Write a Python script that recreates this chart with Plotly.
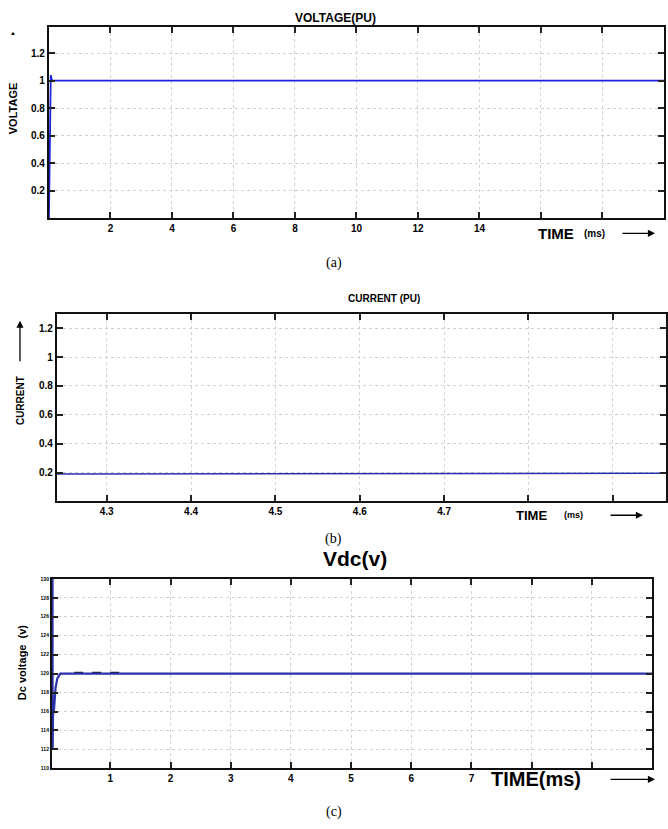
import plotly.graph_objects as go

W, H = 668, 829

# ---------------- data ----------------
# (a) voltage (pu) vs time (ms)
time_a = [0.0, 0.03, 0.06, 0.1, 0.2, 20.0]
volt_a = [0.0, 0.72, 1.04, 1.0, 1.0, 1.0]
xtick_a = [2, 4, 6, 8, 10, 12, 14, 16, 18]
xtext_a = ["2", "4", "6", "8", "10", "12", "14", "", ""]
ytick_a = [0.2, 0.4, 0.6, 0.8, 1.0, 1.2]
ytext_a = ["0.2", "0.4", "0.6", "0.8", "1", "1.2"]

# (b) current (pu) vs time (ms)
time_b = [4.241, 4.489, 4.491, 4.963]
curr_b = [0.19, 0.19, 0.195, 0.195]
xtick_b = [4.3, 4.4, 4.5, 4.6, 4.7, 4.8, 4.9]
xtext_b = ["4.3", "4.4", "4.5", "4.6", "4.7", "", ""]
ytick_b = [0.2, 0.4, 0.6, 0.8, 1.0, 1.2]
ytext_b = ["0.2", "0.4", "0.6", "0.8", "1", "1.2"]

# (c) dc voltage (v) vs time (ms)
time_c = [0.04, 0.042, 0.044, 0.046, 0.05, 0.06, 0.075, 0.09, 0.12, 0.17, 10.0]
vdc_c = [130, 112, 129, 114.5, 116.5, 115.8, 117.3, 118.5, 119.5, 120, 120]
ref_time_c = [0.4, 1.25]
ref_vdc_c = [120.12, 120.12]
xtick_c = [1, 2, 3, 4, 5, 6, 7, 8, 9]
xtext_c = ["1", "2", "3", "4", "5", "6", "7", "", ""]
ytick_c = [110, 112, 114, 116, 118, 120, 122, 124, 126, 128, 130]
ytext_c = ["110", "112", "114", "116", "118", "120", "122", "124", "126", "128", "130"]

# ---------------- helpers ----------------
def px_x(p):
    return p / W

def px_y(p):
    return 1 - p / H

fig = go.Figure()

fig.add_trace(go.Scatter(x=time_a, y=volt_a, mode="lines",
                         line=dict(color="#1e22d8", width=1.8), xaxis="x", yaxis="y",
                         showlegend=False))
fig.add_trace(go.Scatter(x=time_b, y=curr_b, mode="lines",
                         line=dict(color="#2830b0", width=1.5), xaxis="x2", yaxis="y2",
                         showlegend=False))
fig.add_trace(go.Scatter(x=time_c, y=vdc_c, mode="lines",
                         line=dict(color="#2a30a8", width=2.2), xaxis="x3", yaxis="y3",
                         showlegend=False))
fig.add_trace(go.Scatter(x=ref_time_c, y=ref_vdc_c, mode="lines",
                         line=dict(color="#22265a", width=1.2, dash="dash"), xaxis="x3", yaxis="y3",
                         showlegend=False))

BOLD = "Liberation Sans, Arial"
tickfont = dict(family=BOLD, size=10, color="black", weight="bold")
common = dict(showline=True, linecolor="#111", linewidth=2, mirror="ticks",
              ticks="inside", ticklen=6, tickwidth=2, tickcolor="#222",
              showgrid=True, gridcolor="#d2d2d2", griddash="dot", gridwidth=1,
              zeroline=False, tickfont=tickfont, fixedrange=True)

fig.update_layout(
    width=W, height=H, margin=dict(l=0, r=0, t=0, b=0),
    paper_bgcolor="white", plot_bgcolor="white",
    xaxis=dict(domain=[px_x(49), px_x(665)], range=[0, 20], anchor="y",
               tickmode="array", tickvals=xtick_a, ticktext=xtext_a, **common),
    yaxis=dict(domain=[px_y(217), px_y(24)], range=[0, 1.39], anchor="x",
               tickmode="array", tickvals=ytick_a, ticktext=ytext_a, **common),
    xaxis2=dict(domain=[px_x(57), px_x(667)], range=[4.241, 4.963], anchor="y2",
                tickmode="array", tickvals=xtick_b, ticktext=xtext_b, **common),
    yaxis2=dict(domain=[px_y(502), px_y(313)], range=[0, 1.3], anchor="x2",
                tickmode="array", tickvals=ytick_b, ticktext=ytext_b, **common),
    xaxis3=dict(domain=[px_x(52), px_x(653)], range=[0.03, 10], anchor="y3",
                tickmode="array", tickvals=xtick_c, ticktext=xtext_c, **common),
    yaxis3=dict(domain=[px_y(771), px_y(580)], range=[110, 130], anchor="x3",
                tickmode="array", tickvals=ytick_c, ticktext=ytext_c, **common),
)
fig.update_yaxes(selector=dict(anchor="x3"), tickfont=dict(family=BOLD, size=5,
                                                             color="black", weight="bold"))

anns = []

def txt(x, y, text, size, family=BOLD, angle=0, color="black", weight="bold", xanchor="center"):
    anns.append(dict(xref="paper", yref="paper", x=px_x(x), y=px_y(y), text=text,
                     showarrow=False, font=dict(family=family, size=size, color=color, weight=weight),
                     textangle=angle, xanchor=xanchor, yanchor="middle"))

def arrow(x0, y0, x1, y1):
    anns.append(dict(xref="paper", yref="paper", x=px_x(x1), y=px_y(y1),
                     ax=x0 - x1, ay=y0 - y1, axref="pixel", ayref="pixel",
                     text="", showarrow=True, arrowhead=2, arrowsize=1.1,
                     arrowwidth=1.3, arrowcolor="black"))

SERIF = "Liberation Serif, Times New Roman"

# panel (a)
txt(336, 15, "VOLTAGE(PU)", 12)
txt(13, 106, "VOLTAGE", 11, angle=-90)
txt(13, 30, "▲", 6)
txt(537, 232, "TIME", 15, xanchor="left")
txt(583, 232, "(ms)", 10, xanchor="left")
arrow(622, 232, 656, 232)
txt(334, 262, "(a)", 14, family=SERIF, weight="normal")

# panel (b)
txt(385, 298, "CURRENT (PU)", 10)
txt(20, 400, "CURRENT", 10, angle=-90)
arrow(20, 362, 20, 320)
txt(515, 516, "TIME", 13, xanchor="left")
txt(563, 516, "(ms)", 9, xanchor="left")
arrow(610, 516, 644, 516)
txt(334, 540, "(b)", 14, family=SERIF, weight="normal")

# panel (c)
txt(356, 560, "Vdc(v)", 21)
txt(22, 664, "Dc voltage  (v)", 11, angle=-90)
txt(490, 782, "TIME(ms)", 20, xanchor="left")
arrow(610, 782, 656, 782)
txt(334, 815, "(c)", 14, family=SERIF, weight="normal")

fig.update_layout(annotations=anns)

fig.write_html("out.html")
